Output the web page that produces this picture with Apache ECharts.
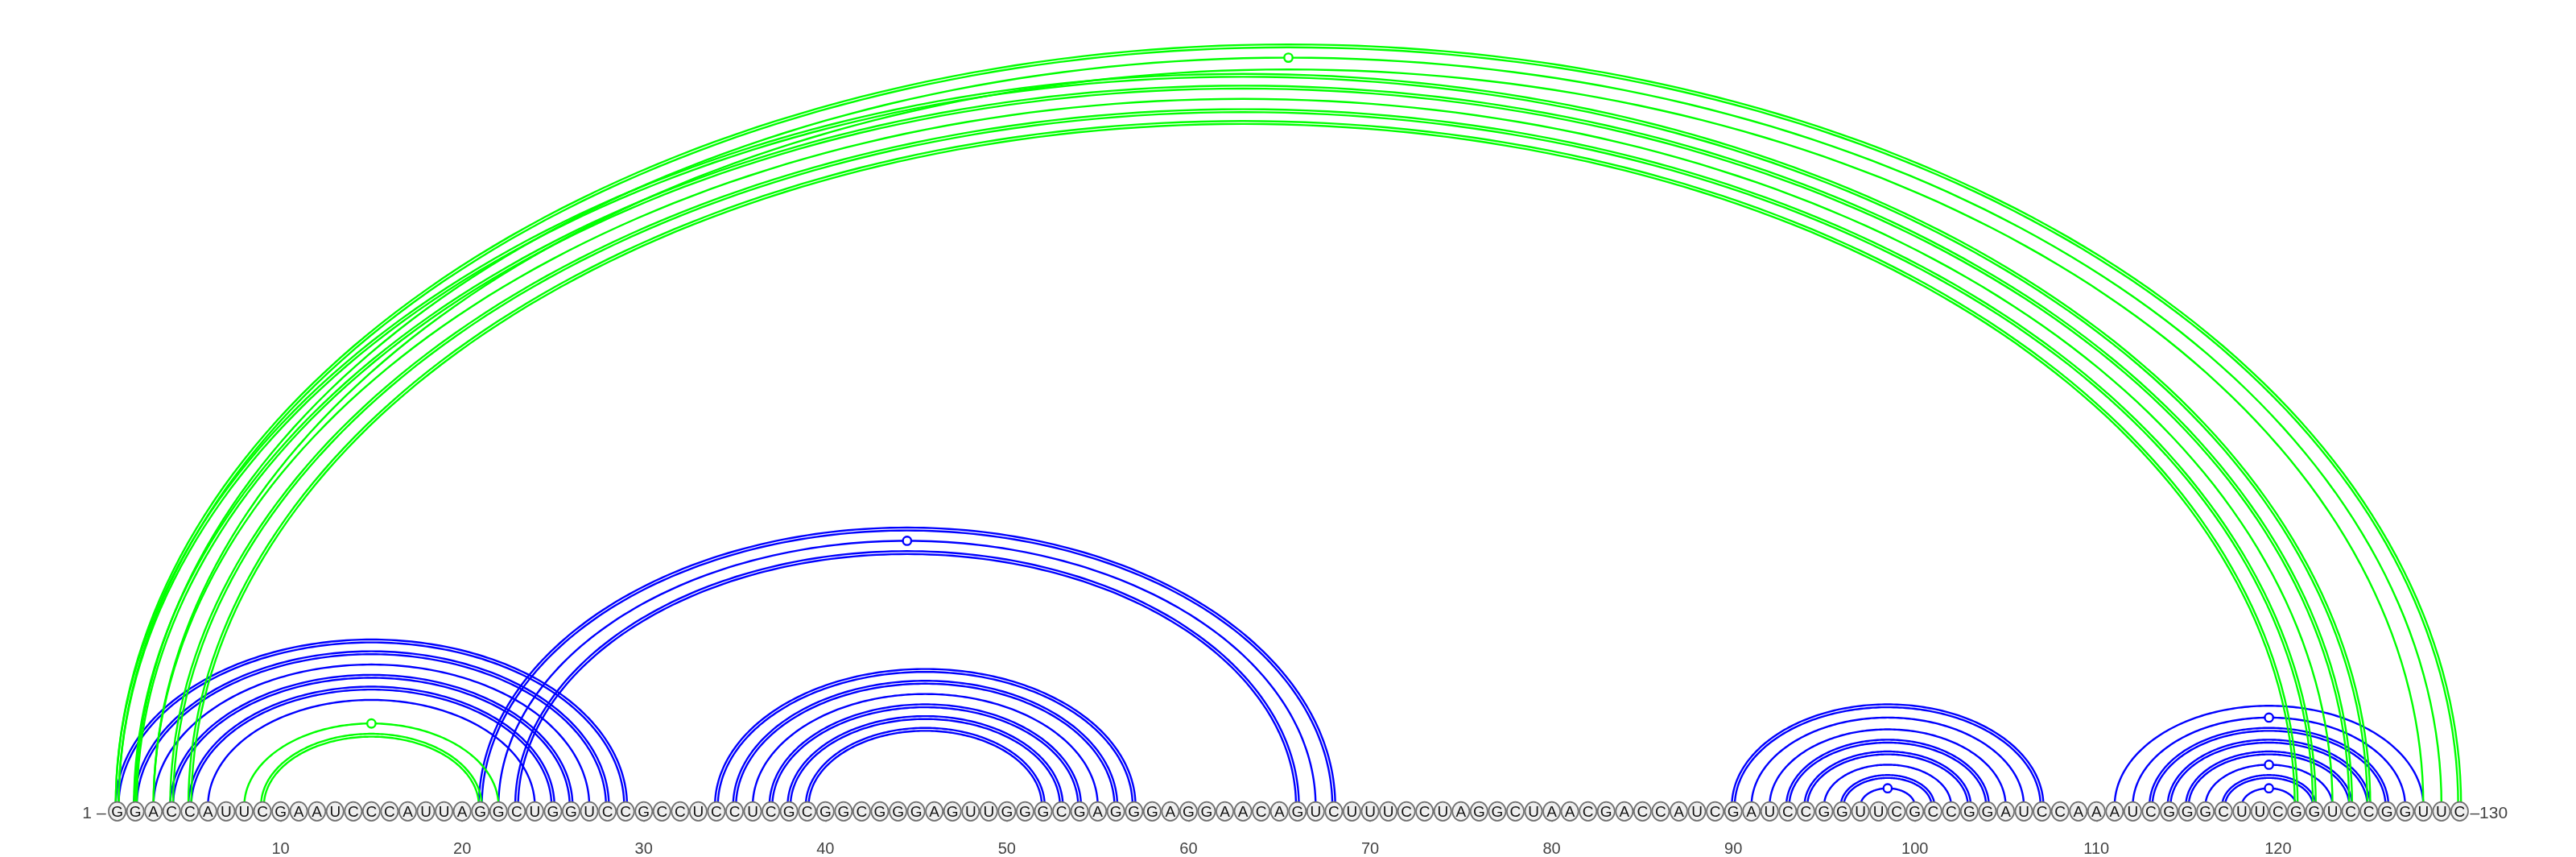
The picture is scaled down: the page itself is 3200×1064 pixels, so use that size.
<html>
<head>
    <meta charset="utf-8">
    <title>arc diagram</title>
    <script src="https://cdn.jsdelivr.net/npm/echarts@6.0.0/dist/echarts.min.js"></script>
</head>
<body style="margin:0">
    <div id="chartmain" style="width:3200px; height:1064px;"></div>
    <script type="text/javascript">
        // sequence, position 1..130
        var seq = ('GGACCAUUCG' + 'AAUCCCAUUA' + 'GGCUGGUCCG' + 'CCUCCUCGCG' +
            'GCGGGAGUUG' + 'GGCGAGGGAG' + 'GAACAGUCUU' + 'UCCUAGGCUA' +
            'ACGACCAUCG' + 'AUCCGGUUCG' + 'CCGGAUCCAA' + 'AUCGGGCUUC' + 'GGUCCGGUUC').split('');

        // pairs: [i, j, lines (1 single / 2 double), marker on apex]
        var blueArcs = [
            [1, 29, 2, 0], [2, 28, 2, 0], [3, 27, 1, 0], [4, 26, 2, 0], [5, 25, 2, 0], [6, 24, 1, 0],
            [21, 68, 2, 0], [22, 67, 1, 1], [23, 66, 2, 0],
            [34, 57, 2, 0], [35, 56, 2, 0], [36, 55, 1, 0], [37, 54, 2, 0], [38, 53, 2, 0], [39, 52, 2, 0],
            [90, 107, 2, 0], [91, 106, 1, 0], [92, 105, 1, 0], [93, 104, 2, 0], [94, 103, 2, 0],
            [95, 102, 1, 0], [96, 101, 2, 0], [97, 100, 1, 1],
            [111, 128, 1, 0], [112, 127, 1, 1], [113, 126, 2, 0], [114, 125, 2, 0], [115, 124, 2, 0],
            [116, 123, 1, 1], [117, 122, 2, 0], [118, 121, 1, 1]
        ];
        var greenArcs = [
            [1, 130, 2, 0], [2, 129, 1, 1], [3, 128, 1, 0],
            [1, 125, 2, 0], [2, 124, 2, 0], [3, 123, 1, 0], [4, 122, 2, 0], [5, 121, 2, 0],
            [8, 22, 1, 1], [9, 21, 2, 0]
        ];
        var tickValues = [10, 20, 30, 40, 50, 60, 70, 80, 90, 100, 110, 120];
        var endLabels = [[1, 0, '1 \u2013'], [130, 0, '\u2013130']];

        var bases = seq.map(function (s, k) { return [k + 1, 0]; });

        var ARC_BASE = 0.46;   // arcs leave the top of the circles
        var FONT = "'Liberation Sans', 'DejaVu Sans', sans-serif";

        var myChart = echarts.init(document.getElementById('chartmain'));

        function arcRenderer(color) {
            return function (params, api) {
                var i = api.value(0), j = api.value(1), n = api.value(2), mark = api.value(3);
                var mid = (i + j) / 2, r = (j - i) / 2;
                var c = api.coord([mid, ARC_BASE]);
                var e = api.coord([j, ARC_BASE]);
                var t = api.coord([mid, ARC_BASE + r]);
                var rx = e[0] - c[0], ry = c[1] - t[1];
                var offs = n === 2 ? [-1.8, 1.8] : [0];
                var children = offs.map(function (d) {
                    var pts = [];
                    for (var k = 0; k <= 160; k++) {
                        var a = Math.PI * k / 160;
                        pts.push([c[0] - (rx + d) * Math.cos(a), c[1] - (ry + d) * Math.sin(a)]);
                    }
                    return {
                        type: 'polyline',
                        shape: { points: pts },
                        style: { stroke: color, lineWidth: 2.4, fill: 'none' }
                    };
                });
                if (mark) {
                    children.push({
                        type: 'circle',
                        shape: { cx: c[0], cy: c[1] - ry, r: 5.2 },
                        style: { fill: '#fff', stroke: color, lineWidth: 2.4 }
                    });
                }
                return { type: 'group', children: children };
            };
        }

        myChart.setOption({
            animation: false,
            backgroundColor: '#fff',
            grid: { left: 123, right: 122, top: 12.5, bottom: 41.4 },
            xAxis: {
                type: 'value',
                min: 0,
                max: 131,
                offset: 2,
                axisLine: { show: false },
                splitLine: { show: false },
                axisTick: {
                    show: true,
                    length: 13,
                    customValues: tickValues,
                    lineStyle: { color: '#555', width: 1.6 }
                },
                axisLabel: {
                    customValues: tickValues,
                    margin: 20,
                    fontSize: 20,
                    fontFamily: FONT,
                    color: '#444'
                }
            },
            yAxis: {
                type: 'value',
                min: -1,
                max: 68,
                show: false
            },
            series: [
                {
                    type: 'custom',
                    name: 'blue',
                    z: 1,
                    renderItem: arcRenderer('#0000ff'),
                    data: blueArcs
                },
                {
                    type: 'custom',
                    name: 'green',
                    z: 2,
                    renderItem: arcRenderer('#00ff00'),
                    data: greenArcs
                },
                {
                    type: 'custom',
                    name: 'bases',
                    z: 3,
                    renderItem: function (params, api) {
                        var p = api.coord([api.value(0), api.value(1)]);
                        return {
                            type: 'group',
                            children: [
                                {
                                    type: 'ellipse',
                                    shape: { cx: p[0], cy: p[1], rx: 10.6, ry: 11.7 },
                                    style: { fill: '#efefef', stroke: '#707070', lineWidth: 1.7 }
                                },
                                {
                                    type: 'text',
                                    x: p[0],
                                    y: p[1] + 1,
                                    style: {
                                        text: seq[params.dataIndex],
                                        fontSize: 19,
                                        fontFamily: FONT,
                                        fill: '#111',
                                        align: 'center',
                                        verticalAlign: 'middle'
                                    }
                                }
                            ]
                        };
                    },
                    data: bases
                },
                {
                    type: 'custom',
                    name: 'ends',
                    z: 3,
                    renderItem: function (params, api) {
                        var p = api.coord([api.value(0), api.value(1)]);
                        var first = params.dataIndex === 0;
                        return {
                            type: 'text',
                            x: first ? p[0] - 14 : p[0] + 13,
                            y: p[1] + 3,
                            style: {
                                text: endLabels[params.dataIndex][2],
                                fontSize: 21,
                                fontFamily: FONT,
                                fill: '#444',
                                align: first ? 'right' : 'left',
                                verticalAlign: 'middle'
                            }
                        };
                    },
                    data: endLabels.map(function (d) { return [d[0], d[1]]; })
                }
            ]
        });
    </script>
</body>
</html>
